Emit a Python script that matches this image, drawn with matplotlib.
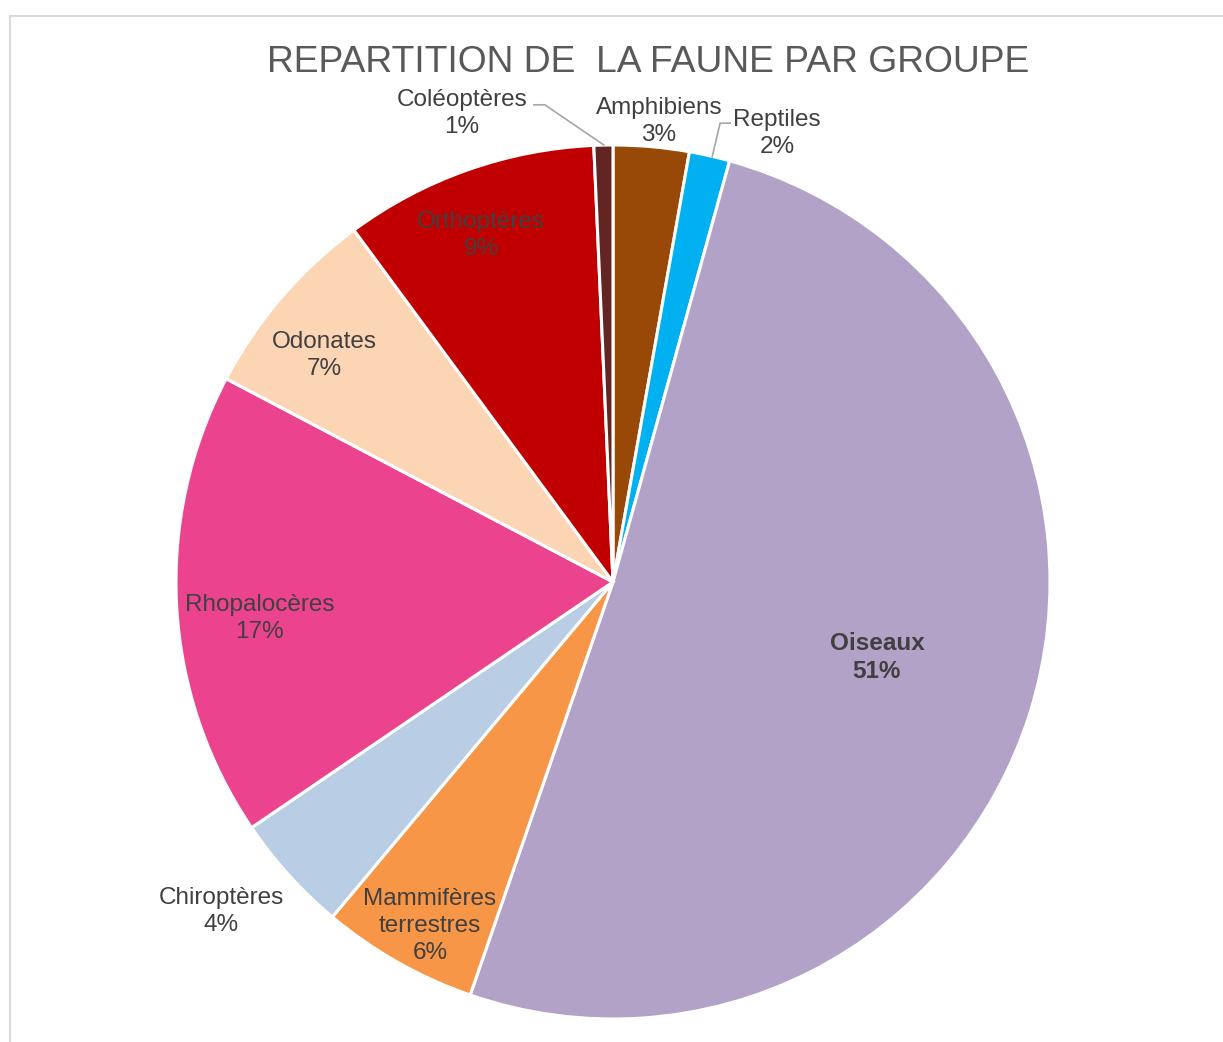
import matplotlib
matplotlib.use("Agg")
import matplotlib.pyplot as plt
from matplotlib.patches import Rectangle

# data (percent of species)
groups = ['Amphibiens', 'Reptiles', 'Oiseaux', 'Mammifères\nterrestres', 'Chiroptères',
          'Rhopalocères', 'Odonates', 'Orthoptères', 'Coléoptères']
values = [2.8, 1.5, 51.0, 5.8, 4.4, 17.2, 7.2, 9.4, 0.7]
colors = ['#984807', '#00B0F0', '#B3A2C7', '#F79646', '#B9CDE5',
          '#EC438F', '#FCD5B5', '#C00000', '#632523']

# label placement (data units, pie radius = 1)
label_xy = [(0.105, 1.053), (0.375, 1.026), (0.604, -0.173), (-0.419, -0.787),
            (-0.897, -0.755), (-0.808, -0.084), (-0.661, 0.518), (-0.302, 0.792),
            (-0.346, 1.072)]

plt.rcParams['font.family'] = ['Liberation Sans', 'DejaVu Sans']
txt = '#404040'

fig = plt.figure(figsize=(12.23, 10.42), dpi=100, facecolor='w')
fig.patches.append(Rectangle((10.5/1223, -0.1), 1.2, 1 - 15.5/1042 + 0.1, transform=fig.transFigure,
                             fill=False, edgecolor='#D9D9D9', linewidth=1.5, zorder=0))
fig.text(648/1223, 1 - 62/1042, 'REPARTITION DE  LA FAUNE PAR GROUPE', ha='center', va='center',
         fontsize=26.8, color='#595959')

ax = fig.add_axes([(613-437)/1223, (1042-582-437)/1042, 874/1223, 874/1042])
ax.pie(values, colors=colors, startangle=90, counterclock=False, radius=1,
       wedgeprops=dict(edgecolor='white', linewidth=2.2))
ax.set_xlim(-1, 1)
ax.set_ylim(-1, 1)
ax.axis('off')

total = sum(values)
for i, g in enumerate(groups):
    pct = '%d%%' % round(values[i] / total * 100)
    x, y = label_xy[i]
    bold = 'bold' if g == 'Oiseaux' else 'normal'
    ax.text(x, y, g + '\n' + pct, ha='center', va='center', fontsize=17.5, color=txt,
            fontweight=bold, linespacing=1.3, clip_on=False)

# leader lines
ax.plot([-0.181, -0.156, -0.021], [1.092, 1.092, 1.0], color='#A6A6A6', lw=1.2, clip_on=False)
ax.plot([0.268, 0.245, 0.227], [1.050, 1.050, 0.973], color='#A6A6A6', lw=1.2, clip_on=False)

plt.savefig('out.png', dpi=100)
